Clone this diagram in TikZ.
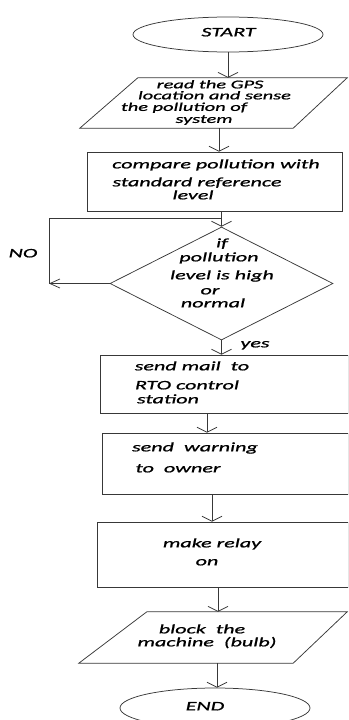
\documentclass[tikz,border=0pt]{standalone}
\usepackage{fontspec}
\setmainfont{Carlito}[FakeStretch=1.7,FakeBold=1]
\usetikzlibrary{shapes.geometric,arrows.meta}
\begin{document}
\begin{tikzpicture}[x=1pt,y=-1pt,
  line/.style={draw=black!78,line width=0.75pt},
  arr/.style={line,-{Straight Barb[length=5pt,width=20pt,line width=0.75pt]}},
  noarr/.style={line,-{Straight Barb[length=10pt,width=9pt,line width=0.75pt]}},
  box/.style={line,rectangle,inner sep=0pt},
  oval/.style={line,ellipse,inner sep=0pt},
  frame/.style={rectangle,inner sep=0pt,draw=none},
  dia/.style={line,diamond,inner sep=0pt},
  txt/.style={anchor=mid,inner sep=0pt,text=black,font=\fontsize{13}{14}\selectfont\itshape},
  tight/.style={txt,font=\fontsize{12}{13}\selectfont\itshape,text height=6.5pt,text depth=1.5pt},
]
\useasboundingbox (0,0) rectangle (348,720);
\clip (0,0) rectangle (348,720);
% shapes
\node[oval,minimum width=190pt,minimum height=35pt] (start) at (228,34.5) {};
\node[frame,minimum width=267pt,minimum height=50pt] (read) at (213.5,103) {};
\draw[line] ([xshift=58pt]read.north west) -- (read.north east) -- ([xshift=-54pt]read.south east) -- (read.south west) -- cycle;
\node[box,minimum width=255pt,minimum height=59pt] (compare) at (214.5,181.5) {};
\node[dia,minimum width=223pt,minimum height=113pt] (dec) at (221.5,283.5) {};
\node[box,minimum width=248pt,minimum height=58pt] (mail) at (224,384) {};
\node[box,minimum width=246pt,minimum height=61pt] (warn) at (225,463.5) {};
\node[box,minimum width=251pt,minimum height=65pt] (relay) at (222.5,554.5) {};
\node[frame,minimum width=268pt,minimum height=51pt] (block) at (213,637.5) {};
\draw[line] ([xshift=68pt]block.north west) -- (block.north east) -- ([xshift=-54pt]block.south east) -- (block.south west) -- cycle;
\node[oval,minimum width=190pt,minimum height=40pt] (end) at (215,708) {};
% texts
\node[txt] (tstart) at (228.5,34) {START};
\node[tight] (r1) at (210,86) {read the GPS};
\node[tight] (r2) at (214.5,97) {location and sense};
\node[tight] (r3) at (184,108.5) {the pollution of};
\node[tight] (r4) at (204,120.5) {system};
\node[txt] (c1) at (216,166) {compare pollution with};
\node[txt] (c2) at (197,184) {standard reference};
\node[txt] (c3) at (193,197) {level};
\node[txt] (d1) at (222,245) {if};
\node[txt] (d2) at (219,259) {pollution};
\node[txt] (d3) at (222,277) {level is high};
\node[txt] (d4) at (210,292) {or};
\node[txt] (d5) at (213,305) {normal};
\node[txt] (m1) at (192,368) {send mail\ \ to};
\node[txt] (m2) at (187,387) {RTO control};
\node[txt] (m3) at (168,401) {station};
\node[txt] (w1) at (195,449) {send\ \ warning};
\node[txt] (w2) at (178,470) {to\ \ owner};
\node[txt] (e1) at (212,545) {make relay};
\node[txt] (e2) at (207,563) {on};
\node[txt] (b1) at (202,631) {block\ \ the};
\node[txt] (b2) at (207,644) {machine\ \ (bulb)};
\node[txt] (tend) at (205,708) {END};
\node[txt] (no) at (23,255) {NO};
\node[txt] (yes) at (255,345) {yes};
% connectors
\draw[arr] (start.south) -- (start.south |- read.north);
\draw[arr] ([xshift=5.5pt]read.south) -- ([xshift=5.5pt]read.south |- compare.north);
\draw[arr] (dec.north |- compare.south) -- (dec.north);
\coordinate (noL) at (49,283.5);
\coordinate (noT) at (49,218);
\draw[noarr] (dec.west) -- (noL);
\draw[line] (noL) -- (noT) -- (noT -| dec.north);
\draw[arr] (dec.south) -- (dec.south |- mail.north);
\draw[arr] ([xshift=-17pt]mail.south) -- ([xshift=-17pt]mail.south |- warn.north);
\draw[arr] ([xshift=-13pt]warn.south) -- ([xshift=-13pt]warn.south |- relay.north);
\draw[arr] ([xshift=-4.5pt]relay.south) -- ([xshift=-4.5pt]relay.south |- block.north);
\draw[arr] ([xshift=4pt]block.south) -- ([xshift=4pt]block.south |- end.north);
% darker marks on box bottoms
\draw[line,line width=1.6pt] ([xshift=-16pt]mail.south) -- ([xshift=3pt]mail.south);
\draw[line,line width=1.6pt] ([xshift=-7pt]warn.south) -- ([xshift=14pt]warn.south);
\end{tikzpicture}
\end{document}
